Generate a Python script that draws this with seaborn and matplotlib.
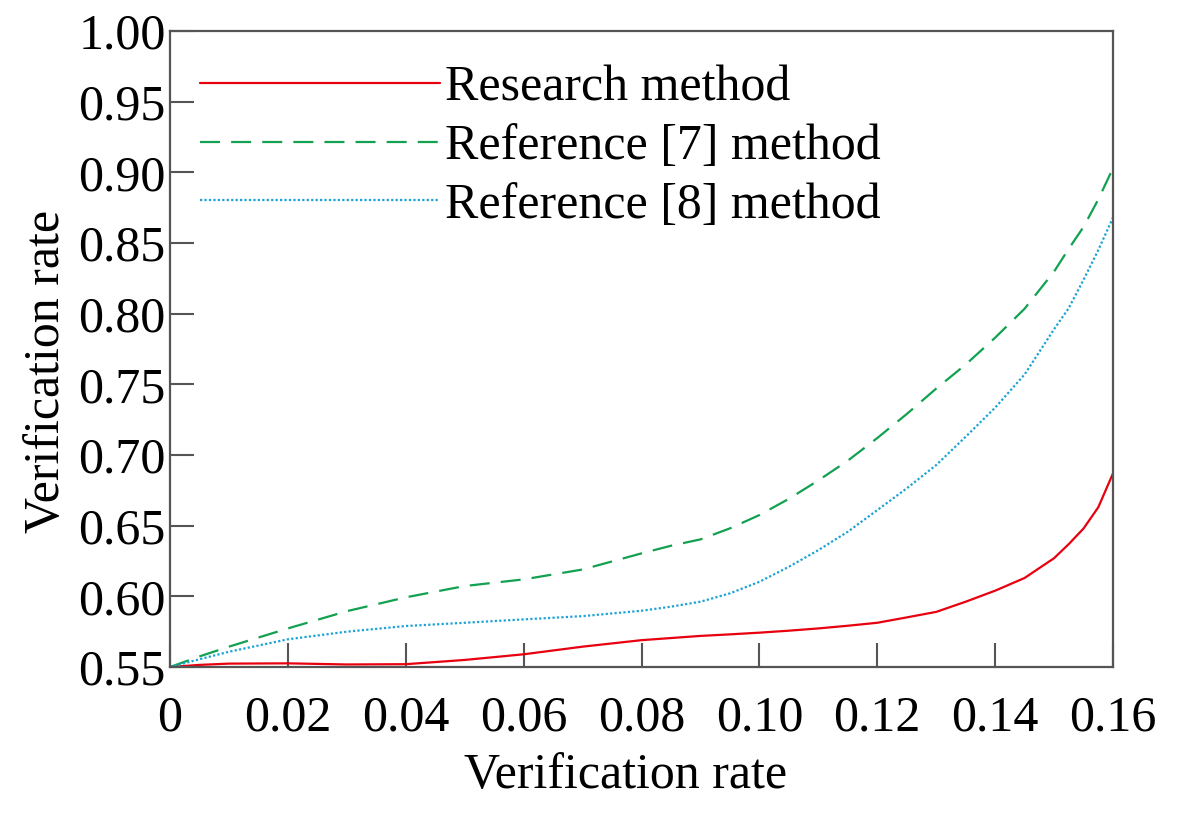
import numpy as np
import pandas as pd
import matplotlib
matplotlib.use('Agg')
import matplotlib.pyplot as plt
import seaborn as sns

# values
x_rate = [0.0, 0.005, 0.01, 0.02, 0.03, 0.04, 0.05, 0.06, 0.07, 0.08, 0.085, 0.09,
          0.095, 0.10, 0.105, 0.11, 0.115, 0.12, 0.125, 0.13, 0.135, 0.14, 0.145,
          0.15, 0.1525, 0.155, 0.1575, 0.16]
research = [0.550, 0.5515, 0.5524, 0.5526, 0.5518, 0.5520, 0.5550, 0.5590, 0.5644, 0.5690,
            0.5705, 0.5720, 0.5731, 0.5743, 0.5757, 0.5773, 0.5792, 0.5813, 0.5851, 0.5890,
            0.5962, 0.6040, 0.6130, 0.6270, 0.6370, 0.6480, 0.6630, 0.6870]
ref7 = [0.550, 0.5575, 0.5644, 0.5773, 0.5895, 0.5993, 0.6073, 0.6120, 0.6190, 0.6304,
        0.6358, 0.6403, 0.6481, 0.6575, 0.6690, 0.6820, 0.6960, 0.7120, 0.7290, 0.7470,
        0.7640, 0.7830, 0.8035, 0.8298, 0.8460, 0.8614, 0.8808, 0.9030]
ref8 = [0.550, 0.5555, 0.5608, 0.5696, 0.5750, 0.5790, 0.5813, 0.5837, 0.5860, 0.5898,
        0.5927, 0.5962, 0.6021, 0.6103, 0.6209, 0.6327, 0.6457, 0.6610, 0.6764, 0.6929,
        0.7129, 0.7335, 0.7570, 0.7890, 0.8040, 0.8240, 0.8450, 0.8680]

labels = ['Research method', 'Reference [7] method', 'Reference [8] method']
colors = ['#e8000f', '#12a150', '#1ba3d6']
styles = ['-', (0, (9, 5)), (0, (1, 1))]

xticks = [0, 0.02, 0.04, 0.06, 0.08, 0.10, 0.12, 0.14, 0.16]
xtick_labels = ['0', '0.02', '0.04', '0.06', '0.08', '0.10', '0.12', '0.14', '0.16']
yticks = [0.55, 0.60, 0.65, 0.70, 0.75, 0.80, 0.85, 0.90, 0.95, 1.00]

sns.set_theme(style='ticks')
plt.rcParams['font.family'] = ['Liberation Serif', 'DejaVu Serif']
plt.rcParams['text.color'] = 'black'

fig = plt.figure(figsize=(12, 8.25), dpi=100)
ax = fig.add_axes([0.1417, 0.1915, 0.7858, 0.7709])

for series, lab, col, ls in zip([research, ref7, ref8], labels, colors, styles):
    sns.lineplot(x=x_rate, y=series, ax=ax, color=col, linestyle=ls,
                 linewidth=1.6, label=lab)

ax.set_xlim(0, 0.16)
ax.set_ylim(0.55, 1.00)
ax.set_xticks(xticks)
ax.set_xticklabels(xtick_labels)
ax.set_yticks(yticks)
ax.set_yticklabels([f'{v:.2f}' for v in yticks])

spine_col = '#555555'
for sp in ax.spines.values():
    sp.set_color(spine_col)
    sp.set_linewidth(1.6)
ax.tick_params(axis='both', direction='in', length=17, width=1.5, color=spine_col,
               labelsize=36, labelcolor='black')
ax.tick_params(axis='x', pad=20)
ax.tick_params(axis='y', pad=3)

ax.set_xlabel('Verification rate', fontsize=36, color='black')
ax.set_ylabel('Verification rate', fontsize=36, color='black')
ax.xaxis.set_label_coords(0.4836, -0.135)
ax.yaxis.set_label_coords(-0.106, 0.465)

leg = ax.legend(loc='upper left', bbox_to_anchor=(0.0318, 0.946), frameon=False,
                fontsize=36, handlelength=4.8, handletextpad=0.1, labelspacing=0.24,
                borderpad=0, borderaxespad=0, labelcolor='black')

fig.savefig('out.png', dpi=100)
